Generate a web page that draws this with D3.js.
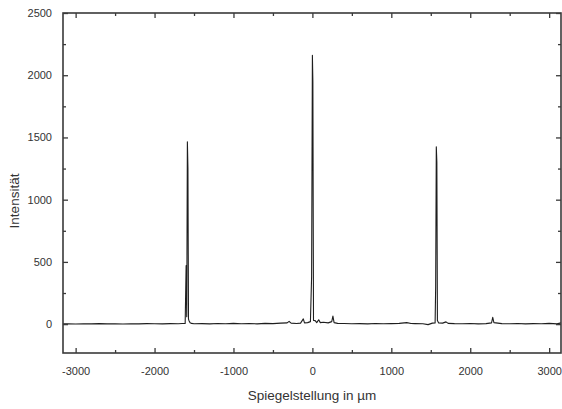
<!DOCTYPE html>
<html>
<head>
<meta charset="utf-8">
<script src="https://cdn.jsdelivr.net/npm/d3@7"></script>
<style>
  html, body { margin: 0; padding: 0; background: #fff; }
  svg { display: block; }
  text { font-family: "Liberation Sans", Arial, sans-serif; }
</style>
</head>
<body>
<svg id="chart" width="562" height="409"></svg>
<script>
// ---- Data ----
const positions = [
  -3160, -3100, -3000, -2900, -2800, -2700, -2600, -2500, -2400, -2300, -2200, -2100,
  -2000, -1900, -1800, -1700, -1650, -1612, -1600, -1592, -1584, -1577, -1570, -1562,
  -1550, -1530, -1500, -1400, -1300, -1200, -1100, -1000, -900, -800, -700, -600,
  -500, -400, -320, -295, -270, -200, -150, -115, -100, -60, -25, -10,
  0, 6, 14, 35, 55, 80, 100, 140, 200, 245, 260, 275,
  320, 400, 500, 600, 700, 800, 900, 1000, 1100, 1196, 1250, 1300,
  1400, 1466, 1520, 1555, 1562, 1570, 1577, 1584, 1600, 1650, 1693, 1720,
  1800, 1900, 2000, 2100, 2200, 2270, 2285, 2300, 2400, 2500, 2600, 2700,
  2800, 2900, 3000, 3100, 3150
];
const intensity = [
  2, 3, 1, 3, 2, 4, 2, 3, 1, 3, 2, 4,
  3, 2, 4, 3, 5, 6, 470, 60, 1465, 1250, 40, 25,
  12, 6, 3, 4, 2, 5, 3, 6, 3, 5, 2, 6,
  4, 8, 10, 22, 8, 5, 8, 42, 10, 12, 20, 380,
  2160, 1950, 30, 28, 12, 35, 12, 15, 10, 20, 65, 12,
  6, 5, 3, 4, 2, 5, 3, 4, 6, 12, 5, 4,
  3, -4, 8, 10, 300, 1425, 1300, 30, 10, 8, 18, 6,
  4, 3, 5, 2, 4, 10, 55, 12, 4, 3, 5, 2,
  4, 3, 6, 2, 10
];
const xMajorTicks = [-3000, -2000, -1000, 0, 1000, 2000, 3000];
const xMinorTicks = [-2500, -1500, -500, 500, 1500, 2500];
const yMajorTicks = [0, 500, 1000, 1500, 2000, 2500];
const yMinorTicks = [250, 750, 1250, 1750, 2250];
const xTitle = "Spiegelstellung in µm";
const yTitle = "Intensität";

// ---- Layout ----
const svg = d3.select("#chart");
const mLeft = 63, mRight = 561, mTop = 13, mBottom = 353;

const x = d3.scaleLinear().domain([-3160, 3150]).range([mLeft, mRight]);
const y = d3.scaleLinear().domain([-232, 2500]).range([mBottom, mTop]);

const axisColor = "#3a3a3a";
const textColor = "#333";
const fmt = d => String(d);

// Data line
const line = d3.line().x((d, i) => x(positions[i])).y(d => y(d));
svg.append("path")
  .datum(intensity)
  .attr("d", line)
  .attr("fill", "none")
  .attr("stroke", "#1e1e1e")
  .attr("stroke-width", 1.1)
  .attr("stroke-linejoin", "round");

function styleAxis(g) {
  g.select(".domain").remove();
  g.selectAll(".tick line").attr("stroke", axisColor).attr("stroke-width", 1.3);
  g.selectAll(".tick text").attr("fill", textColor).style("font-size", "11px");
}

// Bottom axis (major with labels)
svg.append("g").attr("transform", `translate(0,${mBottom})`)
  .call(d3.axisBottom(x).tickValues(xMajorTicks).tickSize(-5).tickPadding(14).tickFormat(fmt))
  .call(styleAxis);
svg.append("g").attr("transform", `translate(0,${mBottom})`)
  .call(d3.axisBottom(x).tickValues(xMinorTicks).tickSize(-3).tickFormat(""))
  .call(styleAxis);
// Top mirror
svg.append("g").attr("transform", `translate(0,${mTop})`)
  .call(d3.axisTop(x).tickValues(xMajorTicks).tickSize(-5).tickFormat(""))
  .call(styleAxis);
svg.append("g").attr("transform", `translate(0,${mTop})`)
  .call(d3.axisTop(x).tickValues(xMinorTicks).tickSize(-3).tickFormat(""))
  .call(styleAxis);
// Left axis
svg.append("g").attr("transform", `translate(${mLeft},0)`)
  .call(d3.axisLeft(y).tickValues(yMajorTicks).tickSize(-5).tickPadding(11).tickFormat(fmt))
  .call(styleAxis);
svg.append("g").attr("transform", `translate(${mLeft},0)`)
  .call(d3.axisLeft(y).tickValues(yMinorTicks).tickSize(-3).tickFormat(""))
  .call(styleAxis);
// Right mirror
svg.append("g").attr("transform", `translate(${mRight},0)`)
  .call(d3.axisRight(y).tickValues(yMajorTicks).tickSize(-5).tickFormat(""))
  .call(styleAxis);
svg.append("g").attr("transform", `translate(${mRight},0)`)
  .call(d3.axisRight(y).tickValues(yMinorTicks).tickSize(-3).tickFormat(""))
  .call(styleAxis);

// Frame
svg.append("rect")
  .attr("x", mLeft).attr("y", mTop)
  .attr("width", mRight - mLeft).attr("height", mBottom - mTop)
  .attr("fill", "none").attr("stroke", axisColor).attr("stroke-width", 1.6);

// Titles
svg.append("text")
  .attr("x", 312).attr("y", 400)
  .attr("text-anchor", "middle")
  .attr("fill", textColor)
  .style("font-size", "13.5px")
  .text(xTitle);
svg.append("text")
  .attr("transform", "translate(19,201) rotate(-90)")
  .attr("text-anchor", "middle")
  .attr("fill", textColor)
  .style("font-size", "13.5px")
  .text(yTitle);
</script>
</body>
</html>
